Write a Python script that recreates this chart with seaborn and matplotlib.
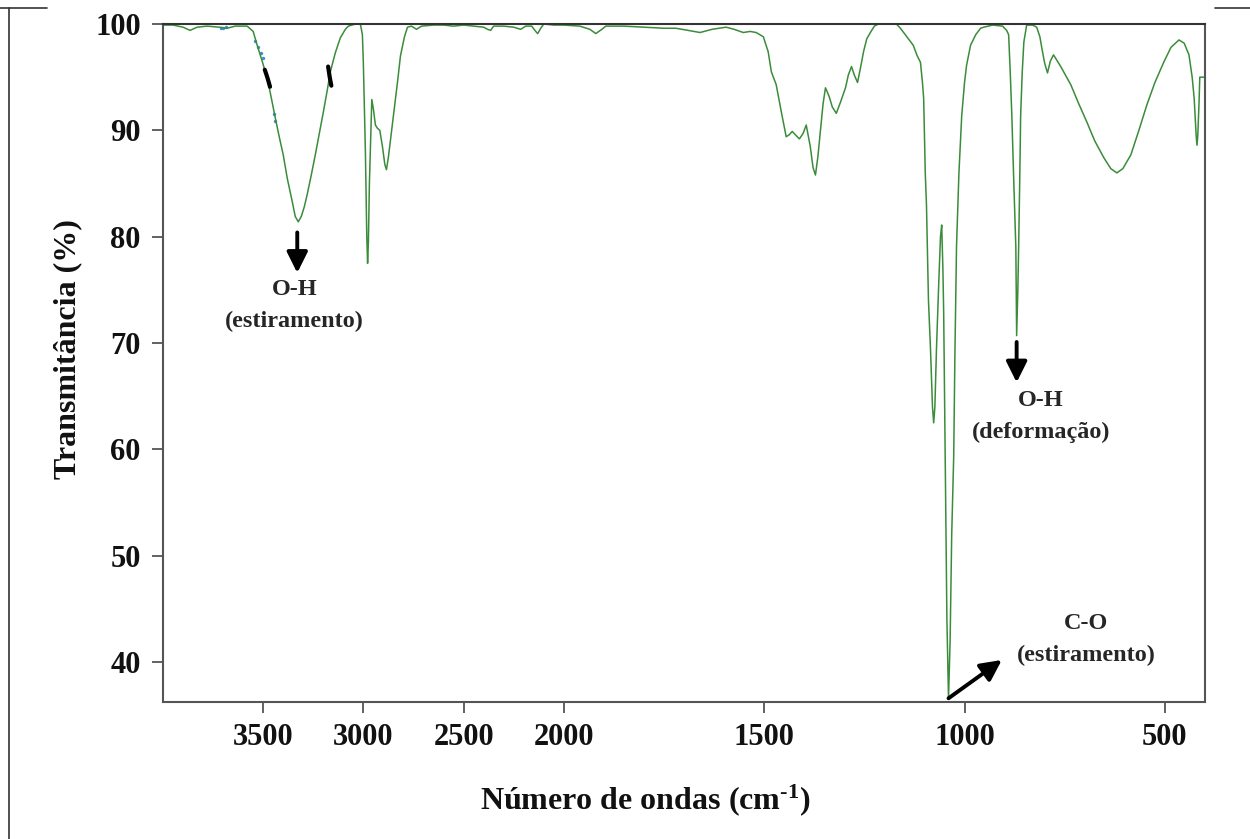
import numpy as np
import pandas as pd
import matplotlib
matplotlib.use("Agg")
import matplotlib.pyplot as plt
from matplotlib.lines import Line2D
import seaborn as sns

# ---------------- data ----------------
wavenumber = [4000, 3950, 3900, 3865, 3830, 3780, 3720, 3680, 3640, 3580, 3550, 3530, 3505, 3480,
              3460, 3440, 3420, 3400, 3380, 3355, 3340, 3325, 3310, 3295, 3280, 3260, 3240, 3220,
              3200, 3180, 3165, 3140, 3115, 3090, 3075, 3040, 3015, 3005, 3000, 2990, 2983, 2979,
              2975, 2970, 2965, 2958, 2950, 2940, 2930, 2918, 2905, 2893, 2885, 2875, 2862, 2850,
              2830, 2815, 2795, 2780, 2760, 2735, 2710, 2650, 2600, 2550, 2500, 2450, 2400, 2380,
              2365, 2350, 2300, 2250, 2215, 2190, 2160, 2140, 2130, 2115, 2100, 2050, 2000, 1960,
              1935, 1920, 1905, 1895, 1850, 1800, 1750, 1720, 1690, 1660, 1630, 1595, 1575, 1552,
              1535, 1520, 1502, 1490, 1482, 1470, 1457, 1445, 1437, 1430, 1420, 1412, 1403, 1395,
              1385, 1378, 1372, 1366, 1360, 1353, 1347, 1338, 1330, 1320, 1310, 1297, 1290, 1282,
              1275, 1267, 1260, 1252, 1244, 1235, 1225, 1215, 1190, 1170, 1160, 1148, 1138, 1128,
              1118, 1110, 1105, 1102, 1098, 1095, 1090, 1085, 1080, 1077, 1074, 1070, 1064, 1060,
              1057, 1054, 1052, 1048, 1044, 1040, 1036, 1032, 1027, 1024, 1020, 1014, 1007, 1000,
              995, 985, 972, 960, 952, 930, 905, 895, 890, 886, 882, 877, 872, 870, 867, 865, 862,
              860, 856, 852, 845, 830, 820, 812, 807, 800, 793, 786, 778, 760, 735, 715, 695, 675,
              652, 635, 620, 605, 585, 565, 545, 525, 503, 485, 465, 452, 440, 432, 427, 422, 420,
              418, 415, 413, 400]
transmittance = [99.9, 99.9, 99.7, 99.4, 99.7, 99.8, 99.7, 99.6, 99.8, 99.8, 99.3, 98.0, 96.5, 94.9,
                 93.1, 91.2, 89.4, 87.7, 85.5, 83.3, 81.9, 81.4, 81.9, 82.8, 84.0, 85.8, 87.7, 89.7,
                 91.7, 93.8, 95.5, 97.3, 98.7, 99.5, 99.8, 100.0, 100.0, 99.0, 96.2, 88.0, 80.0, 77.5,
                 79.5, 85.0, 88.3, 92.9, 92.0, 90.5, 90.2, 90.0, 88.5, 86.8, 86.3, 87.5, 89.5, 91.4,
                 94.5, 97.0, 98.8, 99.7, 99.8, 99.5, 99.8, 99.9, 99.9, 99.8, 99.9, 99.8, 99.7, 99.5,
                 99.4, 99.8, 99.8, 99.7, 99.5, 99.8, 99.8, 99.3, 99.1, 99.6, 100.0, 99.9, 99.9, 99.8,
                 99.5, 99.1, 99.5, 99.8, 99.8, 99.7, 99.6, 99.6, 99.4, 99.2, 99.5, 99.7, 99.5, 99.2,
                 99.3, 99.2, 98.8, 97.4, 95.5, 94.3, 91.7, 89.4, 89.6, 89.9, 89.5, 89.2, 89.7, 90.5,
                 88.5, 86.5, 85.8, 87.5, 89.8, 92.5, 94.0, 93.2, 92.2, 91.6, 92.6, 94.0, 95.2, 96.0,
                 95.2, 94.5, 95.8, 97.4, 98.6, 99.2, 99.8, 100.0, 100.0, 100.0, 99.6, 99.0, 98.5, 98.0,
                 97.0, 96.4, 94.5, 93.0, 86.0, 83.0, 74.0, 69.5, 64.0, 62.5, 64.0, 69.5, 76.0, 80.0,
                 81.1, 77.0, 72.7, 58.0, 44.0, 36.6, 42.0, 52.0, 59.4, 69.0, 79.1, 86.0, 91.4, 94.5,
                 96.1, 98.0, 99.0, 99.6, 99.7, 99.9, 99.8, 99.4, 99.0, 95.5, 91.4, 85.0, 79.0, 70.7,
                 75.0, 79.0, 86.0, 91.4, 95.5, 98.3, 99.9, 99.9, 99.7, 98.8, 97.7, 96.3, 95.4, 96.5,
                 97.1, 96.0, 94.3, 92.5, 90.8, 89.0, 87.4, 86.4, 86.0, 86.4, 87.7, 90.0, 92.4, 94.5,
                 96.4, 97.8, 98.5, 98.2, 97.1, 95.0, 93.0, 89.5, 88.6, 89.5, 92.5, 95.0, 95.0]
assert len(wavenumber) == len(transmittance)

# scanning marks visible on the O-H band of the reference
black_mark_1_wn = [3492, 3478, 3466]
black_mark_1_t = [95.7, 94.9, 94.1]
black_mark_2_wn = [3176, 3168, 3160]
black_mark_2_t = [96.0, 95.0, 94.2]
blue_mark_wn = [3540, 3525, 3512, 3502, 3447, 3443, 3712, 3700, 3688]
blue_mark_t = [98.4, 97.8, 97.3, 96.8, 91.5, 90.9, 99.6, 99.6, 99.7]

x_ticks = [3500, 3000, 2500, 2000, 1500, 1000, 500]
y_ticks = [40, 50, 60, 70, 80, 90, 100]

ann_oh_str = {"wn": 3330, "t_from": 80.4, "t_to": 76.6, "text_wn": 3345, "t1": 75.0, "t2": 72.0,
              "l1": "O-H", "l2": "(estiramento)"}
ann_oh_def = {"wn": 870, "t_from": 70.1, "t_to": 66.3, "text_wn": 810, "t1": 64.6, "t2": 61.6,
              "l1": "O-H", "l2": "(deformação)"}
ann_co = {"wn_from": 1040, "t_from": 36.6, "wn_to": 907, "t_to": 40.2, "text_wn": 697,
          "t1": 43.6, "t2": 40.6, "l1": "C-O", "l2": "(estiramento)"}

# ---------------- style ----------------
sns.set_style("white")
plt.rcParams["font.family"] = ["Liberation Serif", "DejaVu Serif"]
plt.rcParams["font.weight"] = "bold"
plt.rcParams["mathtext.fontset"] = "custom"
plt.rcParams["mathtext.rm"] = "Liberation Serif:bold"
plt.rcParams["mathtext.it"] = "Liberation Serif:bold"
plt.rcParams["mathtext.bf"] = "Liberation Serif:bold"
plt.rcParams["mathtext.default"] = "rm"

W, H = 1250, 839
fig = plt.figure(figsize=(W / 100, H / 100), dpi=100)
ax_l, ax_r, ax_t, ax_b = 163, 1205, 24, 702
ax = fig.add_axes([ax_l / W, 1 - ax_b / H, (ax_r - ax_l) / W, (ax_b - ax_t) / H])


# IR convention: region below 2000 cm-1 drawn at twice the scale
def fwd(x):
    x = np.asarray(x, dtype=float)
    return np.where(x >= 2000, x, 2 * x - 2000)


def inv(u):
    u = np.asarray(u, dtype=float)
    return np.where(u >= 2000, u, (u + 2000) / 2)


df = pd.DataFrame({"wn": wavenumber, "T": transmittance})
line_color = "#3a8c3a"
sns.lineplot(data=df, x="wn", y="T", ax=ax, color=line_color, lw=1.1, sort=False,
             estimator=None)

for xs, ys, c, lw in [(black_mark_1_wn, black_mark_1_t, "black", 3.0),
                      (black_mark_2_wn, black_mark_2_t, "black", 3.0)]:
    sns.lineplot(x=xs, y=ys, ax=ax, color=c, lw=lw, sort=False, estimator=None)
sns.scatterplot(x=blue_mark_wn, y=blue_mark_t, ax=ax, color="#3a8ee0", s=6, linewidth=0)

ax.set_xscale("function", functions=(fwd, inv))
ax.set_xlim(4000, 400)
ax.set_ylim(36.25, 100)
ax.set_xticks(x_ticks)
ax.set_xticklabels([str(v) for v in x_ticks])
ax.set_yticks(y_ticks)
ax.set_yticklabels([str(v) for v in y_ticks])
ax.minorticks_off()

for sp in ax.spines.values():
    sp.set_visible(True)
    sp.set_color("#555555")
    sp.set_linewidth(1.5)
ax.spines["top"].set_color("#333333")

ax.tick_params(axis="both", which="major", bottom=True, left=True, top=False, right=False,
               direction="out", length=8, width=1.3, color="#555555", labelsize=22,
               labelcolor="#111111")
ax.tick_params(axis="x", pad=7)
ax.tick_params(axis="y", pad=8)

ax.set_xlabel("Número de ondas (cm$^{\\text{-}1}$)", fontsize=23, fontweight="bold",
              color="#111111")
ax.set_ylabel("Transmitância (%)", fontsize=23, fontweight="bold", color="#111111")
ax.xaxis.set_label_coords((645 - ax_l) / (ax_r - ax_l), -(782 - ax_b) / (ax_b - ax_t))
ax.yaxis.set_label_coords(-(ax_l - 82) / (ax_r - ax_l), (ax_b - 349) / (ax_b - ax_t))

# ---------------- annotations ----------------
arrow_kw = dict(arrowstyle="-|>,head_length=0.7,head_width=0.35", color="black", lw=2.8,
                mutation_scale=18, shrinkA=0, shrinkB=0)
ann_fs = 17.5

a = ann_oh_str
ax.annotate("", xy=(a["wn"], a["t_to"]), xytext=(a["wn"], a["t_from"]), arrowprops=arrow_kw)
ax.text(a["text_wn"], a["t1"], a["l1"], ha="center", va="center", fontsize=ann_fs, fontweight="bold")
ax.text(a["text_wn"], a["t2"], a["l2"], ha="center", va="center", fontsize=ann_fs, fontweight="bold")

a = ann_oh_def
ax.annotate("", xy=(a["wn"], a["t_to"]), xytext=(a["wn"], a["t_from"]), arrowprops=arrow_kw)
ax.text(a["text_wn"], a["t1"], a["l1"], ha="center", va="center", fontsize=ann_fs, fontweight="bold")
ax.text(a["text_wn"], a["t2"], a["l2"], ha="center", va="center", fontsize=ann_fs, fontweight="bold")

a = ann_co
ax.annotate("", xy=(a["wn_to"], a["t_to"]), xytext=(a["wn_from"], a["t_from"]), arrowprops=arrow_kw,
            annotation_clip=False)
ax.text(a["text_wn"], a["t1"], a["l1"], ha="center", va="center", fontsize=ann_fs, fontweight="bold")
ax.text(a["text_wn"], a["t2"], a["l2"], ha="center", va="center", fontsize=ann_fs, fontweight="bold")

# ---------------- outer frame fragments ----------------
frame_c = "#333333"
fy = 1 - 8 / H
fig.add_artist(Line2D([9 / W, 9 / W], [0, fy], color=frame_c, lw=1.2))
fig.add_artist(Line2D([0, 47 / W], [fy, fy], color=frame_c, lw=1.2))
fig.add_artist(Line2D([1215 / W, 1], [fy, fy], color=frame_c, lw=1.2))

fig.savefig("out.png", dpi=100)
